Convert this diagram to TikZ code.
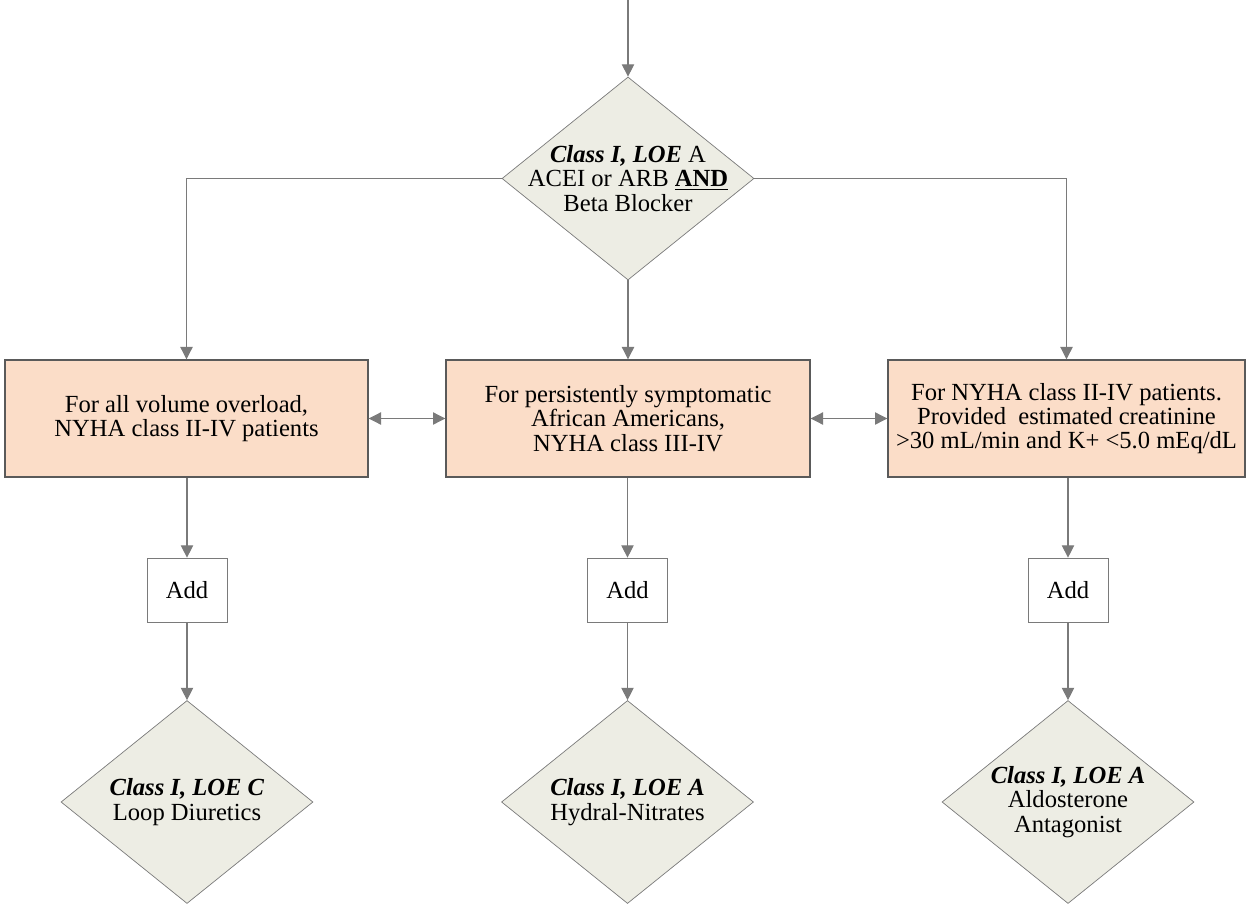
\documentclass[tikz,border=0pt]{standalone}
\usepackage{fontspec}
\setmainfont{Liberation Serif}
\usepackage[dvipsnames]{xcolor}
\usetikzlibrary{arrows.meta}
\usetikzlibrary{shapes.geometric}
\usetikzlibrary{positioning}
\definecolor{linegray}{HTML}{7A7A7A}
\definecolor{edgegray}{HTML}{5A5A5A}
\definecolor{peach}{HTML}{FBDDC8}
\definecolor{sage}{HTML}{EDEDE4}
\newcommand{\loe}[1]{\textbf{\textit{#1}}}
\tikzset{
  decision/.style={diamond, draw=linegray, fill=sage, aspect=1.24, inner sep=-0.3cm,
    minimum width=5.04cm, minimum height=4.06cm, align=center, font=\fontsize{14}{13.8}\selectfont},
  groupbox/.style={rectangle, draw=edgegray, thick, fill=peach, minimum height=2.34cm,
    align=center, font=\fontsize{14}{13.8}\selectfont},
  addbox/.style={rectangle, draw=linegray, fill=white, minimum width=1.6cm, minimum height=1.28cm,
    font=\fontsize{14}{13.8}\selectfont},
  flow/.style={draw=linegray, semithick}
}
\begin{document}
\begin{tikzpicture}[>={Triangle[length=7pt,width=7pt]}]
	\useasboundingbox (0,0) rectangle (25.04,-18.16);
	% top decision
	\coordinate (start) at (12.56,0);
	\node[decision] (acei) at (12.56,-3.57) {\loe{Class I, LOE} A\\ACEI or ARB \underline{\textbf{AND}}\\Beta Blocker};
	% patient groups
	\node[groupbox, minimum width=7.26cm] (volume) at (3.73,-8.37) {For all volume overload,\\NYHA class II-IV patients};
	\node[groupbox, minimum width=7.28cm] (african) at (12.56,-8.37) {For persistently symptomatic\\African Americans,\\NYHA class III-IV};
	\node[groupbox, minimum width=7.14cm] (nyha) at (21.33,-8.37) {For NYHA class II-IV patients.\\Provided\ \ estimated creatinine\\>30 mL/min and K+ <5.0 mEq/dL};
	% add boxes
	\node[addbox] (add1) at (3.74,-11.8) {Add};
	\node[addbox] (add2) at (12.55,-11.8) {Add};
	\node[addbox] (add3) at (21.36,-11.8) {Add};
	% resulting therapies
	\node[decision] (loop) at (3.74,-16.04) {\loe{Class I, LOE C}\\Loop Diuretics};
	\node[decision] (hydral) at (12.55,-16.04) {\loe{Class I, LOE A}\\Hydral-Nitrates};
	\node[decision] (aldo) at (21.36,-16.04) {\loe{Class I, LOE A}\\Aldosterone\\Antagonist};
	% connectors
	\draw[flow,->] (start) -- (acei);
	\draw[flow,->] (acei.west) -| (volume);
	\draw[flow,->] (acei) -- (african);
	\draw[flow,->] (acei.east) -| (nyha);
	\draw[flow,<->] (volume) -- (african);
	\draw[flow,<->] (african) -- (nyha);
	\draw[flow,->] (volume.south -| add1) -- (add1);
	\draw[flow,->] (african.south -| add2) -- (add2);
	\draw[flow,->] (nyha.south -| add3) -- (add3);
	\draw[flow,->] (add1) -- (loop);
	\draw[flow,->] (add2) -- (hydral);
	\draw[flow,->] (add3) -- (aldo);
\end{tikzpicture}
\end{document}
